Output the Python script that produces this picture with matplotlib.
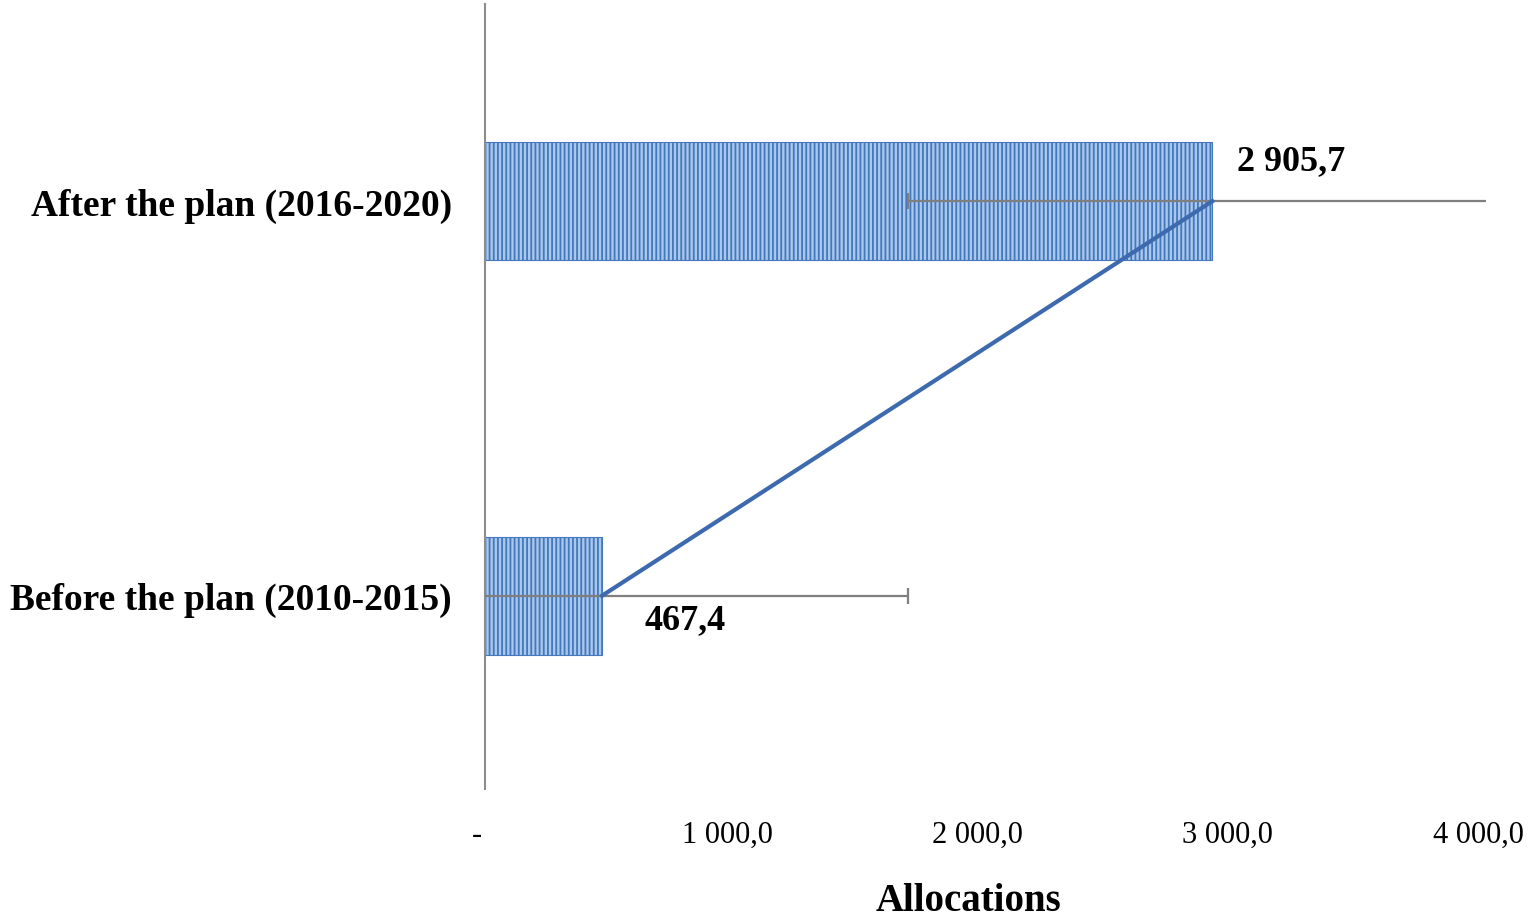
import matplotlib
matplotlib.use("Agg")
import matplotlib.pyplot as plt
import matplotlib.transforms as mtransforms
import numpy as np

# data
periods = ["Before the plan (2010-2015)", "After the plan (2016-2020)"]
allocations = [467.4, 2905.7]
errors = [1223, 1215]
value_labels = ["467,4", "2 905,7"]
ticks = [0, 1000, 2000, 3000, 4000]
tick_labels = ["-", "1 000,0", "2 000,0", "3 000,0", "4 000,0"]

plt.rcParams['font.family'] = ['Liberation Serif', 'DejaVu Serif']
plt.rcParams['hatch.linewidth'] = 1.3
plt.rcParams['hatch.color'] = '#4577BB'

fig = plt.figure(figsize=(15.35, 9.2), dpi=100)
ax = fig.add_axes([0.316, 0.1413, 0.6522, 0.8533])

y = np.arange(len(periods))

ax.barh(y, allocations, height=0.30, color='#A9C8EE', edgecolor='#4577BB',
        linewidth=0.8, hatch='||||', zorder=2)

# error bars (grey, clipped by the axis range)
ax.errorbar(allocations, y, xerr=errors, fmt='none', ecolor='#7F7F7F',
            elinewidth=1.6, capsize=6, capthick=1.6, zorder=3)

# line joining the bar ends
ax.plot(allocations, y, color='#3D6AAE', linewidth=3, zorder=4)

# value labels
ax.annotate(value_labels[0], (allocations[0], y[0]), xytext=(42, -24),
            textcoords='offset pixels', fontsize=26, fontweight='bold',
            ha='left', va='center')
ax.annotate(value_labels[1], (allocations[1], y[1]), xytext=(25, 41),
            textcoords='offset pixels', fontsize=26, fontweight='bold',
            ha='left', va='center')

ax.set_xlim(0, 4000)
ax.set_ylim(-0.49, 1.5)

ax.set_yticks(y)
ax.set_yticklabels(periods, fontsize=27, fontweight='bold')
ax.set_xticks(ticks)
ax.set_xticklabels(tick_labels, fontsize=22)
ax.tick_params(axis='both', length=0)
ax.tick_params(axis='y', pad=24)
ax.tick_params(axis='x', pad=22)

# shift tick labels slightly left like the original
offset = mtransforms.ScaledTranslation(-8 / 100, 0, fig.dpi_scale_trans)
for lbl in ax.get_xticklabels():
    lbl.set_transform(lbl.get_transform() + offset)

ax.set_xlabel("Allocations", fontsize=28, fontweight='bold')
ax.xaxis.set_label_coords(0.4825, -0.118)

for side in ['top', 'right', 'bottom']:
    ax.spines[side].set_visible(False)
ax.spines['left'].set_color('#8C8C8C')
ax.spines['left'].set_linewidth(1.5)

fig.savefig("out.png", dpi=100)
